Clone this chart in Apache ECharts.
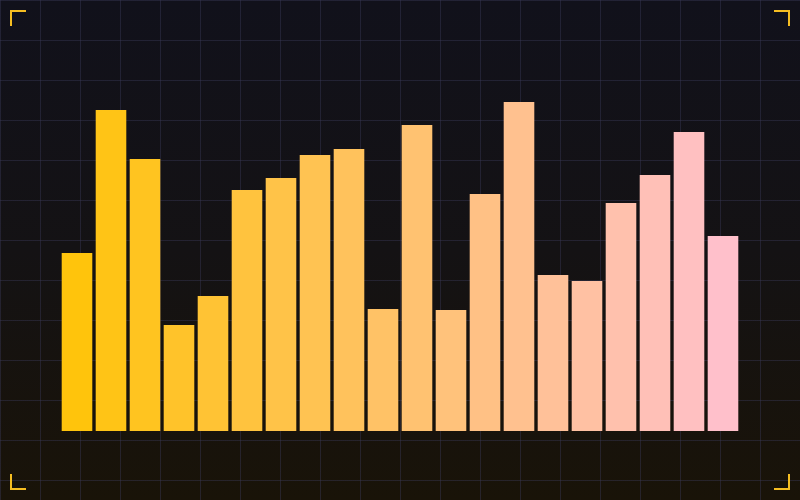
<!DOCTYPE html>
<html>
<head>
<meta charset="utf-8">
<script src="https://cdn.jsdelivr.net/npm/echarts@6/dist/echarts.min.js"></script>
<style>
  html, body { margin: 0; padding: 0; background: #121110; }
  #wrap {
    position: relative; width: 800px; height: 500px; overflow: hidden;
    background:
      linear-gradient(to right, rgba(58,58,90,0.42) 1px, transparent 1px) 0 0 / 40px 40px,
      linear-gradient(to bottom, rgba(58,58,90,0.42) 1px, transparent 1px) 0 0 / 40px 40px,
      linear-gradient(to bottom, #11111b 0%, #141214 50%, #191308 100%);
  }
  #chart { position: absolute; left: 0; top: 0; width: 800px; height: 500px; }
  .br { position: absolute; width: 14px; height: 14px; border-color: #F6BE22; border-style: solid; border-width: 0; }
  .tl { left: 10px; top: 10px; border-top-width: 2px; border-left-width: 2px; }
  .tr { right: 10px; top: 10px; border-top-width: 2px; border-right-width: 2px; }
  .bl { left: 10px; bottom: 10px; border-bottom-width: 2px; border-left-width: 2px; }
  .brr { right: 10px; bottom: 10px; border-bottom-width: 2px; border-right-width: 2px; }
</style>
</head>
<body>
<div id="wrap">
  <div id="chart"></div>
  <div class="br tl"></div>
  <div class="br tr"></div>
  <div class="br bl"></div>
  <div class="br brr"></div>
</div>
<script>
const categories = ['1','2','3','4','5','6','7','8','9','10','11','12','13','14','15','16','17','18','19','20'];
const values = [44.5, 80.25, 68, 26.5, 33.75, 60.25, 63.25, 69, 70.5, 30.5, 76.5, 30.25, 59.25, 82.25, 39, 37.5, 57, 64, 74.75, 48.75];

const startColor = [255, 196, 12];
const endColor = [255, 192, 203];
function barColor(i) {
  const t = i / (categories.length - 1);
  const c = startColor.map((s, k) => Math.round(s + (endColor[k] - s) * t));
  return 'rgb(' + c.join(',') + ')';
}

const chart = echarts.init(document.getElementById('chart'), null, { renderer: 'canvas' });
chart.setOption({
  backgroundColor: 'transparent',
  animation: false,
  grid: { left: 60, right: 60, top: 31, bottom: 69 },
  xAxis: {
    type: 'category', data: categories,
    axisLine: { show: false }, axisTick: { show: false }, axisLabel: { show: false }, splitLine: { show: false }
  },
  yAxis: {
    type: 'value', min: 0, max: 100,
    axisLine: { show: false }, axisTick: { show: false }, axisLabel: { show: false }, splitLine: { show: false }
  },
  series: [{
    type: 'bar',
    data: values,
    barCategoryGap: '10%',
    itemStyle: { color: p => barColor(p.dataIndex) }
  }]
});
</script>
</body>
</html>
